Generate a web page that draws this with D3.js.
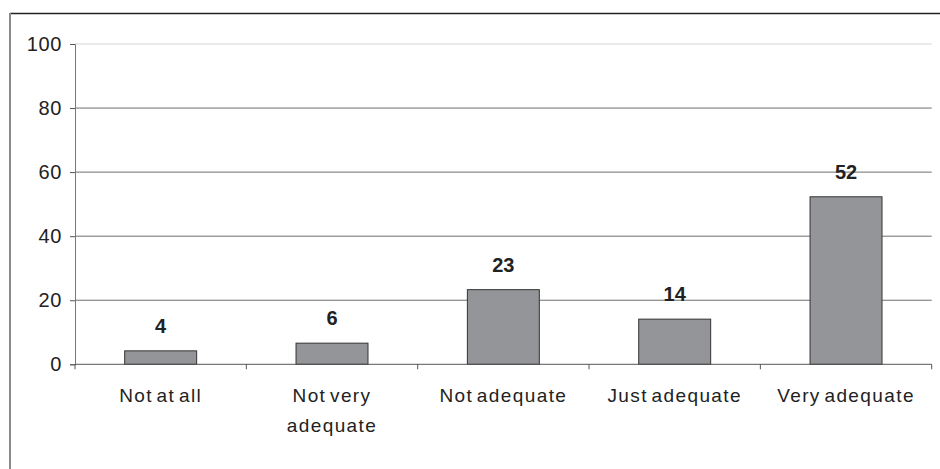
<!DOCTYPE html>
<html><head><meta charset="utf-8">
<script src="https://cdn.jsdelivr.net/npm/d3@7"></script>
<style>
html,body{margin:0;padding:0;background:#fff;}
svg{display:block;font-family:Arial,"Liberation Sans",sans-serif;}
</style></head>
<body><svg id="c" width="940" height="469"></svg>
<script>
const categories = [["Not at all"], ["Not very", "adequate"], ["Not adequate"], ["Just adequate"], ["Very adequate"]];
const values = [4.2, 6.6, 23.3, 14.1, 52.3];
const dataLabels = ["4", "6", "23", "14", "52"];
const yTicks = [0, 20, 40, 60, 80, 100];

const svg = d3.select("#c");
const plotLeft = 75, plotRight = 931.7, plotTop = 44, plotBottom = 364.3;
const keys = categories.map(c => c.join(" "));

const x = d3.scaleBand().domain(keys).range([plotLeft, plotRight]).paddingInner(0.58).paddingOuter(0.29);
const y = d3.scaleLinear().domain([0, 100]).range([plotBottom, plotTop]);

// outer frame
svg.append("line").attr("x1", 10).attr("x2", 940).attr("y1", 13.5).attr("y2", 13.5).attr("stroke", "#222").attr("stroke-width", 1.5);
svg.append("line").attr("x1", 10).attr("x2", 10).attr("y1", 13).attr("y2", 469).attr("stroke", "#8a8a8a").attr("stroke-width", 2);

// gridlines
svg.append("g").selectAll("line").data(yTicks.filter(t => t > 0)).join("line")
  .attr("x1", plotLeft).attr("x2", plotRight)
  .attr("y1", d => y(d)).attr("y2", d => y(d))
  .attr("stroke", d => d === 100 ? "#d4d4d4" : "#6e6e6e").attr("stroke-width", 1);

// y axis
const yAxis = d3.axisLeft(y).tickValues(yTicks).tickSize(5).tickPadding(8);
const gy = svg.append("g").attr("transform", `translate(${plotLeft},0)`).call(yAxis);
gy.select(".domain").attr("stroke", "#777");
gy.selectAll(".tick line").attr("stroke", "#555");
gy.selectAll(".tick text").attr("font-size", 20).attr("fill", "#222")
  .attr("letter-spacing", 0.6).attr("font-family", "Arial, 'Liberation Sans', sans-serif");

// bars
svg.append("g").selectAll("rect").data(values).join("rect")
  .attr("x", (d, i) => x(keys[i]))
  .attr("width", x.bandwidth())
  .attr("y", d => y(d))
  .attr("height", d => y(0) - y(d))
  .attr("fill", "#939598").attr("stroke", "#333").attr("stroke-width", 1);

// x axis
const step = x.step();
svg.append("line").attr("x1", plotLeft).attr("x2", plotRight).attr("y1", y(0)).attr("y2", y(0)).attr("stroke", "#555");
svg.append("g").selectAll("line").data(d3.range(keys.length + 1)).join("line")
  .attr("x1", i => plotLeft + i * step).attr("x2", i => plotLeft + i * step)
  .attr("y1", y(0)).attr("y2", y(0) + 5).attr("stroke", "#555");

// category labels
const lab = svg.append("g").selectAll("text").data(categories).join("text")
  .attr("text-anchor", "middle").attr("font-size", 19).attr("fill", "#222")
  .attr("letter-spacing", 1.4).attr("word-spacing", -3)
  .attr("x", (d, i) => x(keys[i]) + x.bandwidth() / 2)
  .attr("y", 401.5);
lab.selectAll("tspan").data(d => d).join("tspan")
  .attr("x", function() { return d3.select(this.parentNode).attr("x"); })
  .attr("dy", (d, j) => j === 0 ? 0 : 30)
  .text(d => d);

// data labels
svg.append("g").selectAll("text").data(values).join("text")
  .attr("text-anchor", "middle").attr("font-size", 20).attr("font-weight", "bold").attr("fill", "#222")
  .attr("x", (d, i) => x(keys[i]) + x.bandwidth() / 2)
  .attr("y", d => y(d) - 18)
  .text((d, i) => dataLabels[i]);
</script></body></html>
